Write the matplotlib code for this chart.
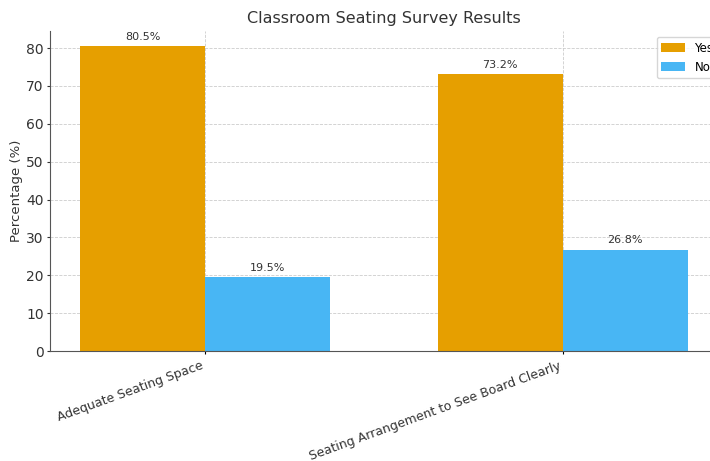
import matplotlib.pyplot as plt
import numpy as np

questions = ["Adequate Seating Space", "Seating Arrangement to See Board Clearly"]
yes_pct = [80.5, 73.2]
no_pct = [19.5, 26.8]

yes_color = "#E69F00"
no_color = "#48B6F4"

fig = plt.figure(figsize=(7.1, 4.61), dpi=100)
# axes run slightly past the right edge of the canvas
ax = fig.add_axes([50 / 710, 110 / 461, 668 / 710, 320 / 461])

x = np.arange(len(questions))
width = 0.35
bars_yes = ax.bar(x - width / 2, yes_pct, width, label="Yes", color=yes_color)
bars_no = ax.bar(x + width / 2, no_pct, width, label="No", color=no_color)

for bars in (bars_yes, bars_no):
    for b in bars:
        ax.annotate(f"{b.get_height()}%",
                    (b.get_x() + b.get_width() / 2, b.get_height()),
                    xytext=(0, 3), textcoords="offset points",
                    ha="center", va="bottom", fontsize=8, color="#333333")

ax.set_title("Classroom Seating Survey Results", fontsize=11.5, color="#333333")
ax.set_ylabel("Percentage (%)", fontsize=9.5, color="#333333", labelpad=2)
ax.set_xticks(x)
ax.set_xticklabels(questions, rotation=20, ha="right", fontsize=9, color="#333333")
ax.tick_params(axis="y", labelsize=10, colors="#333333", length=2.5, pad=2)
ax.tick_params(axis="x", length=2.5)
ax.set_yticks(range(0, 81, 10))

ax.grid(True, linestyle="--", linewidth=0.6, color="#cccccc")
ax.set_axisbelow(True)
for s in ("top", "right"):
    ax.spines[s].set_visible(False)
for s in ("left", "bottom"):
    ax.spines[s].set_color("#555555")

ax.legend(loc="upper right", bbox_to_anchor=(1.009, 1.0), fontsize=8.5,
          handlelength=2)

fig.savefig("out.png", dpi=100)
